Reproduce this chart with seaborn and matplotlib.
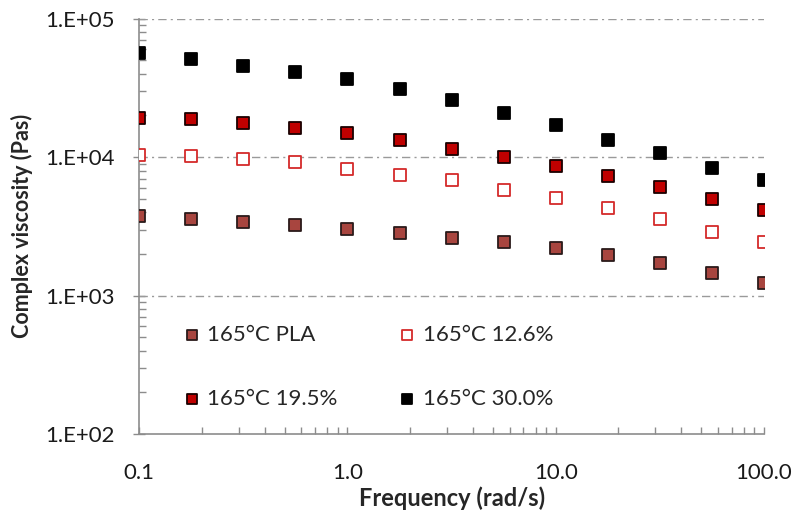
import matplotlib
matplotlib.use("Agg")
import matplotlib.pyplot as plt
import matplotlib.ticker as mticker
import seaborn as sns
import numpy as np
import pandas as pd

freq = [0.1, 0.178, 0.316, 0.562, 1.0, 1.78, 3.16, 5.62, 10.0, 17.8, 31.6, 56.2, 100.0]
pla = [3760, 3580, 3400, 3250, 3030, 2820, 2620, 2440, 2220, 1980, 1710, 1450, 1230]
pct126 = [10430, 10150, 9710, 9230, 8220, 7480, 6810, 5770, 5100, 4320, 3580, 2900, 2450]
pct195 = [19300, 18900, 17600, 16300, 14900, 13200, 11500, 9980, 8640, 7310, 6060, 4990, 4130]
pct300 = [56400, 50900, 45400, 41300, 36700, 31100, 25800, 20800, 17200, 13200, 10700, 8400, 6800]

labels = ["165°C PLA", "165°C 12.6%", "165°C 19.5%", "165°C 30.0%"]
series = [pla, pct126, pct195, pct300]
faces = ["#A8453F", "white", "#C00000", "black"]
edges = ["#2a1a1a", "#D42A2A", "#1a0000", "black"]

sns.set_theme(style="white")
plt.rcParams['font.family'] = ['Lato', 'DejaVu Sans']

fig = plt.figure(figsize=(8, 5.15), dpi=100)
ax = fig.add_axes([0.174, 0.157, 0.781, 0.8067])

for lab, vals, fc, ec in zip(labels, series, faces, edges):
    df = pd.DataFrame({"f": freq, "v": vals})
    sns.scatterplot(data=df, x="f", y="v", ax=ax, marker="s", s=85,
                    color=fc, edgecolor=ec, linewidth=1.3, label=lab, zorder=3)

ax.set_xscale("log")
ax.set_yscale("log")
ax.set_xlim(0.1, 100)
ax.set_ylim(100, 100000)

ax.xaxis.set_major_locator(mticker.FixedLocator([0.1, 1, 10, 100]))
ax.xaxis.set_major_formatter(mticker.FixedFormatter(["0.1", "1.0", "10.0", "100.0"]))
ax.xaxis.set_minor_locator(mticker.LogLocator(base=10, subs=np.arange(2, 10)))
ax.xaxis.set_minor_formatter(mticker.NullFormatter())
ax.yaxis.set_major_locator(mticker.FixedLocator([100, 1000, 10000, 100000]))
ax.yaxis.set_major_formatter(mticker.FixedFormatter(["1.E+02", "1.E+03", "1.E+04", "1.E+05"]))
ax.yaxis.set_minor_locator(mticker.LogLocator(base=10, subs=np.arange(2, 10)))
ax.yaxis.set_minor_formatter(mticker.NullFormatter())

for y in [1000, 10000, 100000]:
    ax.axhline(y, color="#9a9a9a", lw=1.0, ls=(0, (6, 3, 1.5, 3)), zorder=1)

for s in ["top", "right"]:
    ax.spines[s].set_visible(False)
for s in ["left", "bottom"]:
    ax.spines[s].set_color("#8c8c8c")
    ax.spines[s].set_linewidth(1.2)

ax.tick_params(axis="x", which="major", direction="in", length=5, width=1, color="#8c8c8c",
               labelsize=16, pad=21, bottom=True)
ax.tick_params(axis="x", which="minor", direction="in", length=5, width=1, color="#8c8c8c", bottom=True)
ax.tick_params(axis="y", which="major", direction="inout", length=9, width=1, color="#8c8c8c",
               labelsize=16, pad=13, left=True)
ax.tick_params(axis="y", which="minor", direction="in", length=5, width=1, color="#8c8c8c", left=True)
for t in ax.get_xticklabels() + ax.get_yticklabels():
    t.set_color("#1a1a1a")

ax.set_xlabel("Frequency (rad/s)", fontsize=17, fontweight="bold", labelpad=2)
ax.set_ylabel("Complex viscosity (Pas)", fontsize=15.5, fontweight="bold", labelpad=9)

handles, labs = ax.get_legend_handles_labels()
order = [0, 2, 1, 3]
leg = ax.legend([handles[i] for i in order], [labs[i] for i in order], ncol=2,
                loc="upper left", bbox_to_anchor=(0.034, 0.312),
                frameon=False, fontsize=16, markerscale=0.8, labelspacing=2.0,
                columnspacing=2.65, handletextpad=0.2, handlelength=1.0)

fig.savefig("out.png", dpi=100)
